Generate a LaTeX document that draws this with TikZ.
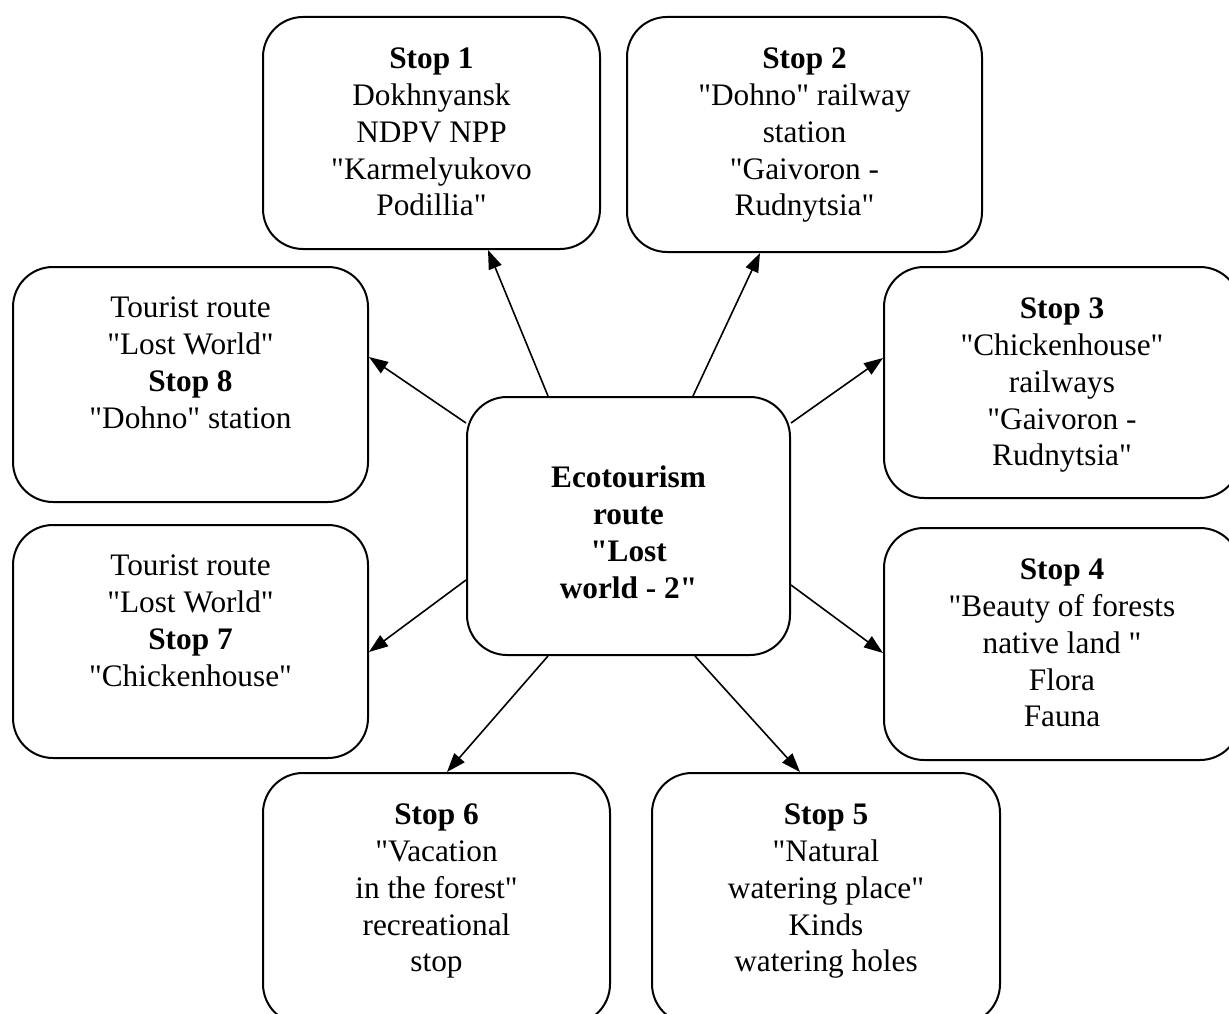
\documentclass[tikz,border=0pt]{standalone}
\usepackage{fontspec}
% straight double quotes: switch off the TeX input mapping
\setmainfont{Liberation Serif}[Ligatures=TeXOff]
\usetikzlibrary{arrows.meta}
\begin{document}
\begin{tikzpicture}[x=1pt,y=-1pt,
  stopbox/.style={draw, line width=2pt, rounded corners=40pt, inner sep=0pt},
  boxtext/.style={anchor=north, align=center, inner sep=0pt,
    font=\fontsize{31.3}{36.7}\selectfont},
  link/.style={line width=1.6pt, -{Triangle[length=19pt,width=13.5pt]}}]
\useasboundingbox (0,0) rectangle (1229,1014);
\clip (0,0) rectangle (1229,1014);

% central box
\node[stopbox, minimum width=323pt, minimum height=258pt] (c) at (628.5,526) {};
\node[boxtext, font=\fontsize{31.3}{36.7}\selectfont\bfseries] (tc) at ([yshift=-70pt]c.north)
  {Ecotourism\\route\\"Lost\\world - 2"};

% surrounding stops
\node[stopbox, minimum width=337pt, minimum height=232pt] (s1) at (431.5,133) {};
\node[boxtext] (t1) at ([yshift=-32pt]s1.north)
  {\textbf{Stop 1}\\Dokhnyansk\\NDPV NPP\\"Karmelyukovo\\Podillia"};

\node[stopbox, minimum width=355pt, minimum height=235pt] (s2) at (804.5,134.5) {};
\node[boxtext] (t2) at ([yshift=-32pt]s2.north)
  {\textbf{Stop 2}\\"Dohno" railway\\station\\"Gaivoron -\\Rudnytsia"};

\node[stopbox, minimum width=356pt, minimum height=231pt] (s3) at (1062,382.5) {};
\node[boxtext] (t3) at ([yshift=-32pt]s3.north)
  {\textbf{Stop 3}\\"Chickenhouse"\\railways\\"Gaivoron -\\Rudnytsia"};

\node[stopbox, minimum width=356pt, minimum height=232pt] (s4) at (1062,644) {};
\node[boxtext] (t4) at ([yshift=-32pt]s4.north)
  {\textbf{Stop 4}\\"Beauty of forests\\native land "\\Flora\\Fauna};

\node[stopbox, minimum width=348pt, minimum height=251pt] (s5) at (826,898.5) {};
\node[boxtext] (t5) at ([yshift=-32pt]s5.north)
  {\textbf{Stop 5}\\"Natural\\watering place"\\Kinds\\watering holes};

\node[stopbox, minimum width=347pt, minimum height=251pt] (s6) at (436.5,898.5) {};
\node[boxtext] (t6) at ([yshift=-32pt]s6.north)
  {\textbf{Stop 6}\\"Vacation\\in the forest"\\recreational\\stop};

\node[stopbox, minimum width=355pt, minimum height=233pt] (s7) at (190.5,641.5) {};
\node[boxtext] (t7) at ([yshift=-31pt]s7.north)
  {Tourist route\\"Lost World"\\\textbf{Stop 7}\\"Chickenhouse"};

\node[stopbox, minimum width=355pt, minimum height=235pt] (s8) at (190.5,384.5) {};
\node[boxtext] (t8) at ([yshift=-31pt]s8.north)
  {Tourist route\\"Lost World"\\\textbf{Stop 8}\\"Dohno" station};

% connectors from the route to each stop
\draw[link] ([xshift=-80.5pt]c.north) -- ([xshift=56.5pt]s1.south);
\draw[link] ([xshift=64.5pt]c.north) -- ([xshift=-44.5pt]s2.south);
\draw[link] ([yshift=103pt]c.east) -- ([yshift=24.5pt]s3.west);
\draw[link] ([yshift=-59pt]c.east) -- ([yshift=-9pt]s4.west);
\draw[link] ([xshift=66.5pt]c.south) -- ([xshift=-26pt]s5.north);
\draw[link] ([xshift=-80.5pt]c.south) -- ([xshift=10.5pt]s6.north);
\draw[link] ([yshift=-54pt]c.west) -- ([yshift=-10.5pt]s7.east);
\draw[link] ([yshift=103pt]c.west) -- ([yshift=27.5pt]s8.east);
\end{tikzpicture}
\end{document}
